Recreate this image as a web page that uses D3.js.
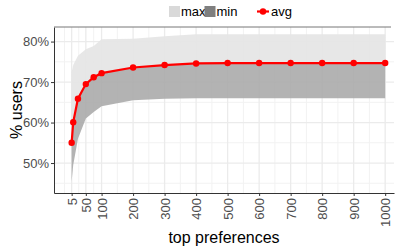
<!DOCTYPE html>
<html>
<head>
<meta charset="utf-8">
<script src="https://cdn.jsdelivr.net/npm/d3@7"></script>
<style>
  body { margin: 0; background: #fff; }
  svg { display: block; font-family: "Liberation Sans", Arial, sans-serif; }
</style>
</head>
<body>
<div id="chart"></div>
<script>
// values (percent of users)
var topN = [5, 10, 25, 50, 75, 100, 200, 300, 400, 500, 600, 700, 800, 900, 1000]
var avgVals = [55.0, 60.1, 65.9, 69.5, 71.2, 72.2, 73.6, 74.2, 74.6, 74.7, 74.7, 74.7, 74.7, 74.7, 74.7]
var maxVals = [72.5, 74.2, 76.5, 78.1, 78.9, 80.6, 80.7, 81.3, 81.8, 81.8, 81.8, 81.8, 81.8, 81.8, 81.8]
var minVals = [45.5, 49.5, 56.0, 61.0, 62.6, 64.0, 65.5, 65.9, 66.0, 66.0, 66.0, 66.0, 66.0, 66.0, 66.0]
var xTicks = [5, 50, 100, 200, 300, 400, 500, 600, 700, 800, 900, 1000]
var xMinor = [-17.5, 27.5, 75, 150, 250, 350, 450, 550, 650, 750, 850, 950]
var yTicks = [50, 60, 70, 80]
var yMinor = [45, 55, 65, 75]

var width = 396, height = 248
var panel = { left: 54, right: 394, top: 27, bottom: 193 }

var data = topN.map(function(d, i) {
  return { n: d, avg: avgVals[i], max: maxVals[i], min: minVals[i] }
})

var svg = d3.select('#chart').append('svg')
  .attr('width', width)
  .attr('height', height)

var x = d3.scaleLinear().domain([-51, 1028]).range([panel.left, panel.right])
var y = d3.scaleLinear().domain([42.6, 83.6]).range([panel.bottom, panel.top])

// grid
var grid = svg.append('g')
grid.selectAll('.ymin').data(yMinor).enter().append('line')
  .attr('x1', panel.left).attr('x2', panel.right)
  .attr('y1', function(d) { return y(d) }).attr('y2', function(d) { return y(d) })
  .attr('stroke', '#f2f2f2').attr('stroke-width', 1)
grid.selectAll('.xmin').data(xMinor).enter().append('line')
  .attr('y1', panel.top).attr('y2', panel.bottom)
  .attr('x1', function(d) { return x(d) }).attr('x2', function(d) { return x(d) })
  .attr('stroke', '#f2f2f2').attr('stroke-width', 1)
grid.selectAll('.ymaj').data(yTicks).enter().append('line')
  .attr('x1', panel.left).attr('x2', panel.right)
  .attr('y1', function(d) { return y(d) }).attr('y2', function(d) { return y(d) })
  .attr('stroke', '#ebebeb').attr('stroke-width', 1.3)
grid.selectAll('.xmaj').data(xTicks).enter().append('line')
  .attr('y1', panel.top).attr('y2', panel.bottom)
  .attr('x1', function(d) { return x(d) }).attr('x2', function(d) { return x(d) })
  .attr('stroke', '#ebebeb').attr('stroke-width', 1.3)

// ribbons
var maxArea = d3.area()
  .x(function(d) { return x(d.n) })
  .y0(function(d) { return y(d.avg) })
  .y1(function(d) { return y(d.max) })
var minArea = d3.area()
  .x(function(d) { return x(d.n) })
  .y0(function(d) { return y(d.min) })
  .y1(function(d) { return y(d.avg) })

svg.append('path').datum(data).attr('d', maxArea)
  .attr('fill', '#e5e5e5').attr('fill-opacity', 0.92)
svg.append('path').datum(data).attr('d', minArea)
  .attr('fill', '#a8a8a8').attr('fill-opacity', 0.88)

// avg line + points
var line = d3.line()
  .x(function(d) { return x(d.n) })
  .y(function(d) { return y(d.avg) })
svg.append('path').datum(data).attr('d', line)
  .attr('fill', 'none').attr('stroke', '#ff0000').attr('stroke-width', 2.2)
svg.selectAll('.pt').data(data).enter().append('circle')
  .attr('cx', function(d) { return x(d.n) })
  .attr('cy', function(d) { return y(d.avg) })
  .attr('r', 3.2)
  .attr('fill', '#ff0000')

// axes
var xAxis = svg.append('g')
  .attr('transform', 'translate(0,' + panel.bottom + ')')
  .call(d3.axisBottom(x).tickValues(xTicks).tickSize(3).tickSizeOuter(0).tickPadding(2)
    .tickFormat(d3.format('d')))
xAxis.select('.domain').attr('stroke', '#333')
xAxis.selectAll('.tick line').attr('stroke', '#333')
xAxis.selectAll('.tick text')
  .attr('transform', 'rotate(-90)')
  .attr('x', -5).attr('y', 0).attr('dy', '0.35em')
  .style('text-anchor', 'end')
  .attr('fill', '#4d4d4d')
  .style('font-size', '13px')

var yAxis = svg.append('g')
  .attr('transform', 'translate(' + panel.left + ',0)')
  .call(d3.axisLeft(y).tickValues(yTicks).tickSize(3).tickSizeOuter(0).tickPadding(2)
    .tickFormat(function(d) { return d + '%' }))
yAxis.select('.domain').attr('stroke', '#333')
yAxis.selectAll('.tick line').attr('stroke', '#333')
yAxis.selectAll('.tick text')
  .attr('fill', '#4d4d4d')
  .style('font-size', '13px')

// top border
svg.append('line')
  .attr('x1', panel.left).attr('x2', panel.right - 3)
  .attr('y1', panel.top).attr('y2', panel.top)
  .attr('stroke', '#777').attr('stroke-width', 1)

// titles
svg.append('text')
  .attr('x', (panel.left + panel.right) / 2).attr('y', 243)
  .attr('text-anchor', 'middle')
  .style('font-size', '16px').attr('fill', '#000')
  .text('top preferences')
svg.append('text')
  .attr('transform', 'translate(22,' + ((panel.top + panel.bottom) / 2) + ') rotate(-90)')
  .attr('text-anchor', 'middle')
  .style('font-size', '16px').attr('fill', '#000')
  .text('% users')

// legend
var legend = svg.append('g')
legend.append('rect').attr('x', 169).attr('y', 6).attr('width', 11).attr('height', 11).attr('fill', '#d9d9d9')
legend.append('text').attr('x', 181).attr('y', 16).style('font-size', '13px').text('max')
legend.append('rect').attr('x', 204.5).attr('y', 6).attr('width', 11).attr('height', 11).attr('fill', '#7f7f7f')
legend.append('text').attr('x', 216.5).attr('y', 16).style('font-size', '13px').text('min')
legend.append('line').attr('x1', 257).attr('x2', 269).attr('y1', 11.5).attr('y2', 11.5)
  .attr('stroke', '#ff0000').attr('stroke-width', 2.2)
legend.append('circle').attr('cx', 263).attr('cy', 11.5).attr('r', 3.2).attr('fill', '#ff0000')
legend.append('text').attr('x', 271).attr('y', 16).style('font-size', '13px').text('avg')
</script>
</body>
</html>
